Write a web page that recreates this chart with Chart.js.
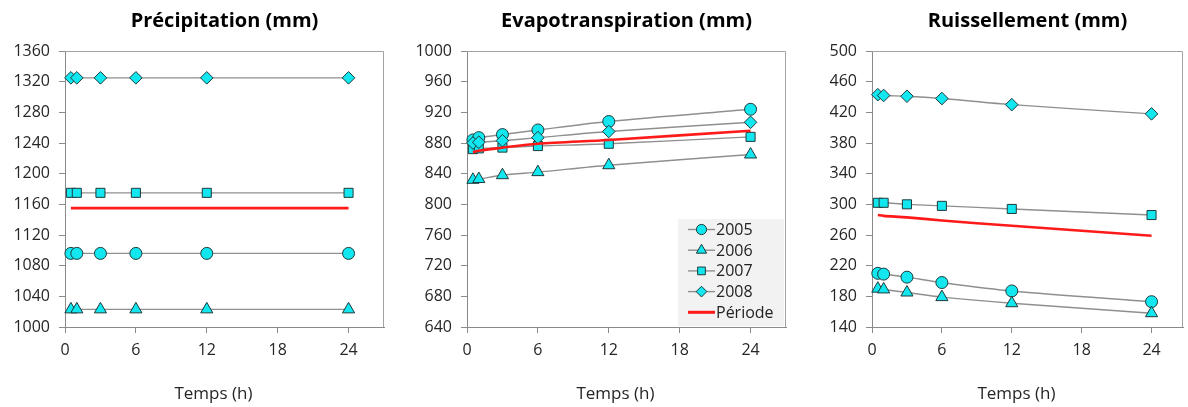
<!DOCTYPE html>
<html>
<head>
<meta charset="utf-8">
<script src="https://cdn.jsdelivr.net/npm/chart.js@4/dist/chart.umd.min.js"></script>
<style>
  html, body { margin: 0; padding: 0; background: #fff; overflow: hidden; width: 1188px; height: 407px; }
  .panel { position: absolute; top: 0; height: 407px; }
</style>
</head>
<body>
<div class="panel" style="left:0px"><canvas id="precip_canvas" width="392" height="407"></canvas></div>
<div class="panel" style="left:402px"><canvas id="evap_canvas" width="392" height="407"></canvas></div>
<div class="panel" style="left:807px"><canvas id="runoff_canvas" width="384" height="407"></canvas></div>
<script>
// hours after the event
const hours = [0.5, 1, 3, 6, 12, 24]
const series_names = ["2005", "2006", "2007", "2008", "Période"]

const precip_2005 = [1096, 1096, 1096, 1096, 1096, 1096]
const precip_2006 = [1023, 1023, 1023, 1023, 1023, 1023]
const precip_2007 = [1175, 1175, 1175, 1175, 1175, 1175]
const precip_2008 = [1325, 1325, 1325, 1325, 1325, 1325]
const precip_periode = [1155, 1155, 1155, 1155, 1155, 1155]

const evap_2005 = [884, 887, 891, 897, 908, 924]
const evap_2006 = [832, 833, 838, 842, 851, 865]
const evap_2007 = [872, 873, 874, 876, 879, 888]
const evap_2008 = [880, 881, 883, 887, 895, 907]
const evap_periode = [868, 870, 874, 879, 884, 896]

const runoff_2005 = [210, 209, 205, 198, 187, 173]
const runoff_2006 = [190, 189, 185, 179, 171, 158]
const runoff_2007 = [302, 302, 300, 298, 294, 286]
const runoff_2008 = [443, 442, 441, 438, 430, 418]
const runoff_periode = [286, 285, 283, 279, 272, 259]

const FONT = "'Open Sans', 'DejaVu Sans', sans-serif"
const CYAN = "#12e6ee"
const EDGE = "#1d3a3c"
const LINE_GREY = "#8f8f8f"
const AXIS_GREY = "#8a8a8a"

// marker look per year
const markers = [
  { style: "circle", radius: 6 },
  { style: "triangle", radius: 7 },
  { style: "rect", radius: 6.4 },
  { style: "rectRot", radius: 6.3 },
]
// later years sit on top, Période on top of everything
const draw_order = [4, 3, 2, 1, 0]

function to_points(values) {
  return hours.map((h, i) => ({ x: h, y: values[i] }))
}

function get_datasets(series) {
  return series.map((values, i) => {
    if (i == 4) {
      return {
        label: series_names[i],
        data: to_points(values),
        borderColor: "#ff1a1a",
        borderWidth: 2.6,
        pointRadius: 0,
        tension: 0.3,
        order: draw_order[i],
        clip: false,
      }
    }
    return {
      label: series_names[i],
      data: to_points(values),
      borderColor: LINE_GREY,
      borderWidth: 1.4,
      tension: 0.3,
      pointStyle: markers[i].style,
      pointRadius: markers[i].radius,
      pointBackgroundColor: CYAN,
      pointBorderColor: EDGE,
      pointBorderWidth: 1,
      order: draw_order[i],
      clip: false,
    }
  })
}

// top and right edges of the plot box
const frame_plugin = {
  id: "frame",
  beforeDatasetsDraw(chart) {
    const a = chart.chartArea
    const ctx = chart.ctx
    ctx.save()
    ctx.strokeStyle = "#a3a3a3"
    ctx.lineWidth = 1
    ctx.beginPath()
    ctx.moveTo(a.left, a.top + 0.5)
    ctx.lineTo(a.right - 0.5, a.top + 0.5)
    ctx.lineTo(a.right - 0.5, a.bottom)
    ctx.stroke()
    ctx.restore()
  }
}

// legend box inside the plot, bottom right, excel style
const box_legend = {
  id: "box_legend",
  afterDraw(chart) {
    const a = chart.chartArea
    const ctx = chart.ctx
    const w = 106, h = 107
    const left = a.right - w - 2
    const top = a.bottom - h - 1
    ctx.save()
    ctx.fillStyle = "#f2f2f2"
    ctx.fillRect(left, top, w, h)
    chart.data.datasets.forEach((ds, i) => {
      const cy = top + 10.5 + i * 20.7
      ctx.beginPath()
      ctx.moveTo(left + 10, cy)
      ctx.lineTo(left + 37, cy)
      ctx.strokeStyle = ds.borderColor
      ctx.lineWidth = i == 4 ? 3 : 1.4
      ctx.stroke()
      if (i < 4) {
        ctx.fillStyle = CYAN
        ctx.strokeStyle = EDGE
        ctx.lineWidth = 1
        Chart.helpers.drawPoint(ctx, {
          pointStyle: markers[i].style,
          radius: markers[i].radius * 0.85,
          rotation: 0,
          borderWidth: 1,
        }, left + 23.5, cy)
      }
      ctx.fillStyle = "#222"
      ctx.font = "16px " + FONT
      ctx.textBaseline = "middle"
      ctx.textAlign = "left"
      ctx.fillText(ds.label, left + 38, cy + 1)
    })
    ctx.restore()
  }
}

function get_config(title, series, y_min, y_max, x_max, with_legend) {
  const plugins = [frame_plugin]
  if (with_legend) plugins.push(box_legend)
  return {
    type: "line",
    data: { datasets: get_datasets(series) },
    plugins: plugins,
    options: {
      responsive: false,
      animation: false,
      layout: { padding: { left: 0, right: x_max ? 0 : 6, top: 0, bottom: 0 } },
      plugins: {
        legend: { display: false },
        tooltip: { enabled: false },
        title: {
          display: true,
          text: title,
          fullSize: false,
          color: "#000",
          font: { family: FONT, size: 20, weight: "bold" },
          padding: { top: 9, bottom: 18 },
        },
      },
      scales: {
        x: {
          type: "linear",
          min: 0,
          max: x_max || 27,
          afterFit: (scale) => { scale.height = 80 },
          grid: { drawOnChartArea: false, drawTicks: true, tickLength: 6, color: AXIS_GREY },
          border: { color: AXIS_GREY, width: 1 },
          ticks: {
            stepSize: 6,
            includeBounds: false,
            padding: 8,
            color: "#262626",
            font: { family: FONT, size: 16 },
            maxRotation: 0,
          },
          title: {
            display: true,
            // excel puts the axis title a little left of the plot centre
            text: "Temps (h)\u00a0\u00a0\u00a0\u00a0\u00a0",
            color: "#262626",
            font: { family: FONT, size: 17 },
            padding: { top: 0, bottom: 3 },
          },
        },
        y: {
          min: y_min,
          max: y_max,
          afterFit: (scale) => { scale.width = 65 },
          grid: { drawOnChartArea: false, drawTicks: true, tickLength: 6, color: AXIS_GREY },
          border: { color: AXIS_GREY, width: 1 },
          ticks: {
            stepSize: 40,
            padding: 9,
            color: "#262626",
            font: { family: FONT, size: 16 },
            callback: (v) => String(v),
          },
        },
      },
    },
  }
}

new Chart(document.getElementById("precip_canvas"),
  get_config("Précipitation (mm)",
    [precip_2005, precip_2006, precip_2007, precip_2008, precip_periode], 1000, 1360, 0, false))

new Chart(document.getElementById("evap_canvas"),
  get_config("Evapotranspiration (mm)",
    [evap_2005, evap_2006, evap_2007, evap_2008, evap_periode], 640, 1000, 0, true))

new Chart(document.getElementById("runoff_canvas"),
  get_config("Ruissellement (mm)",
    [runoff_2005, runoff_2006, runoff_2007, runoff_2008, runoff_periode], 140, 500, 26.7, false))
</script>
</body>
</html>
